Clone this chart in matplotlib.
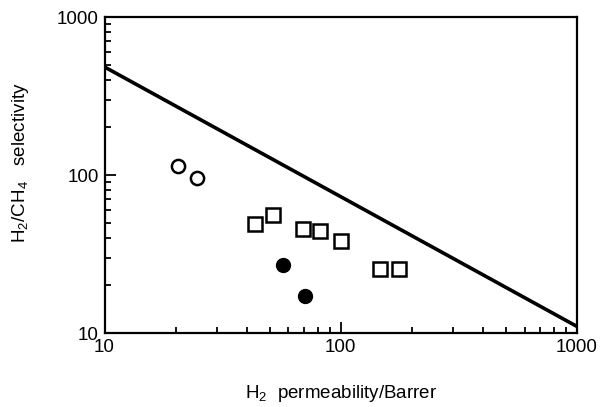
import matplotlib
matplotlib.use("Agg")
import matplotlib.pyplot as plt
from matplotlib.ticker import LogLocator, NullFormatter, FixedLocator, FixedFormatter

plt.rcParams['font.family'] = ['Liberation Sans', 'DejaVu Sans']
plt.rcParams['mathtext.fontset'] = 'custom'
plt.rcParams['mathtext.rm'] = 'Liberation Sans'

# Upper bound line
bound_x = [10, 1000]
bound_y = [483, 11]

# Open circles
oc_x = [20.5, 24.7]
oc_y = [114, 96]

# Open squares
sq_x = [43.5, 51.9, 69.2, 81.3, 100, 146.8, 175.8]
sq_y = [48.7, 55.8, 45.3, 44.2, 38.4, 25.3, 25.3]

# Filled circles
fc_x = [56.9, 70.3]
fc_y = [26.9, 17.2]

xticks = [10, 100, 1000]
xtick_labels = ['10', '100', '1000']
yticks = [10, 100, 1000]
ytick_labels = ['10', '100', '1000']

fig = plt.figure(figsize=(6.02, 4.07), dpi=100)
ax = fig.add_axes([104.5/602, 1-333/407, (577-104.5)/602, (333-17)/407])

ax.plot(bound_x, bound_y, color='black', lw=2.6, solid_capstyle='butt')
ax.plot(oc_x, oc_y, 'o', ms=9.5, mfc='white', mec='black', mew=1.8, ls='none')
ax.plot(sq_x, sq_y, 's', ms=10, mfc='white', mec='black', mew=1.8, ls='none')
ax.plot(fc_x, fc_y, 'o', ms=10, mfc='black', mec='black', ls='none')

ax.set_xscale('log')
ax.set_yscale('log')
ax.set_xlim(10, 1000)
ax.set_ylim(10, 1000)

ax.xaxis.set_major_locator(FixedLocator(xticks))
ax.xaxis.set_major_formatter(FixedFormatter(xtick_labels))
ax.yaxis.set_major_locator(FixedLocator(yticks))
ax.yaxis.set_major_formatter(FixedFormatter(ytick_labels))
ax.xaxis.set_minor_locator(LogLocator(base=10, subs=range(2, 10)))
ax.yaxis.set_minor_locator(LogLocator(base=10, subs=range(2, 10)))
ax.xaxis.set_minor_formatter(NullFormatter())
ax.yaxis.set_minor_formatter(NullFormatter())

ax.tick_params(which='both', direction='in', top=False, right=False,
               labelsize=13.5, width=1.3, pad=4)
ax.tick_params(which='major', length=8)
ax.tick_params(which='minor', length=4)

for s in ax.spines.values():
    s.set_linewidth(1.6)

ax.set_xlabel(r'H$_2$  permeability/Barrer', fontsize=13.5, labelpad=20)
ax.set_ylabel(r'H$_2$/CH$_4$   selectivity', fontsize=13.5, labelpad=18)
ax.yaxis.set_label_coords(-0.155, 0.54)

fig.savefig('out.png', dpi=100)
